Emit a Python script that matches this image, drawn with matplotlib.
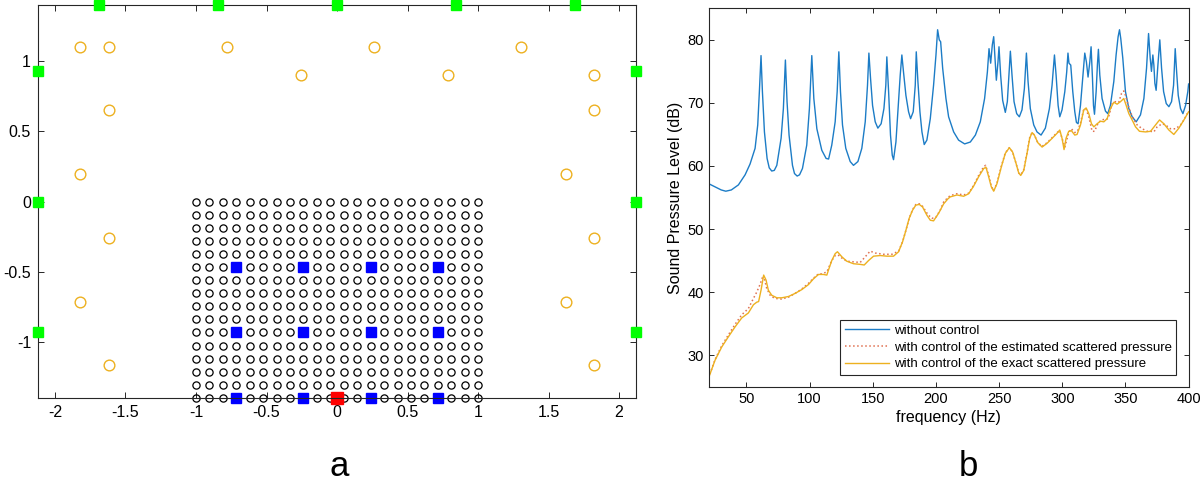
import matplotlib.pyplot as plt
import numpy as np

plt.rcParams['font.family'] = ['Liberation Sans', 'DejaVu Sans']
plt.rcParams['axes.unicode_minus'] = False

# ---- panel a: geometry ----
grid_x = [-1.000, -0.905, -0.810, -0.714, -0.619, -0.524, -0.429, -0.333, -0.238, -0.143, -0.048,
          0.048, 0.143, 0.238, 0.333, 0.429, 0.524, 0.619, 0.714, 0.810, 0.905, 1.000]
grid_y = [0.000, -0.093, -0.187, -0.280, -0.373, -0.467, -0.560, -0.653, -0.747, -0.840, -0.933,
          -1.027, -1.120, -1.213, -1.307, -1.400]

mic_x = [-1.82, -1.615, -0.777, 0.263, 1.305, -0.255, 0.784, 1.82, -1.615, 1.82,
         -1.82, 1.625, -1.615, 1.82, -1.82, 1.625, -1.615, 1.82]
mic_y = [1.10, 1.10, 1.10, 1.10, 1.10, 0.90, 0.90, 0.90, 0.65, 0.65,
         0.197, 0.197, -0.257, -0.257, -0.713, -0.713, -1.164, -1.164]

src_x = [-1.69, -0.845, 0.0, 0.845, 1.69, -2.12, -2.12, -2.12, 2.12, 2.12, 2.12]
src_y = [1.40, 1.40, 1.40, 1.40, 1.40, 0.933, 0.0, -0.933, 0.933, 0.0, -0.933]

sec_x = [-0.714, -0.238, 0.238, 0.714]
sec_y = [-0.467, -0.933, -1.400]

prim_x = [0.0]
prim_y = [-1.400]

# ---- panel b: spectra ----
f_nc = [20, 25, 30, 33.6, 38, 43.6, 48.9, 52.8, 56.8, 58.9, 60.2, 61.5, 62.6, 64.2, 66.3, 68, 70.0, 72,
        74.0, 77.4, 79.2, 80.8, 82.1, 83.7, 86.4, 88, 90.1, 92, 94.3, 97.7, 99.8, 101.7, 103.3, 105.7,
        109.6, 113, 115, 117.5, 120.2, 121.8, 123.1, 124.4, 126.0, 128.6, 132.1, 134.7, 138.2, 141.3,
        144.0, 145.8, 146.9, 148.2, 149.8, 151.9, 154.0, 156.6, 158.8, 160.3, 161.1, 162.5, 164.0,
        165.4, 166.4, 168.3, 170.4, 171.7, 173.0, 174.3, 176.2, 178.3, 179.9, 182.0, 183.6, 184.4,
        185.7, 187.3, 188.9, 190.7, 192.8, 195.5, 198.1, 200.0, 201.3, 202.6, 203.7, 205.3, 207.9,
        210, 214.0, 217.9, 222.7, 227.2, 231.2, 235.1, 238.5, 240.7, 242.0, 243.3, 244.6, 245.7,
        246.7, 247.8, 249.1, 249.9, 251.2, 252.8, 254.9, 256.5, 257.8, 258.9, 260.2, 261.8, 263.9,
        266.0, 268.1, 270.0, 271.0, 271.6, 272.9, 274.7, 277.4, 280.0, 283.2, 286.6, 289.8, 291.9,
        293.8, 295.1, 296.7, 298.0, 299.8, 302.0, 303.5, 304.5, 305.3, 306.7, 308.3, 309.9, 311.2,
        312.5, 314.4, 316.2, 317.8, 319.1, 320.4, 321.8, 322.8, 323.9, 324.7, 325.5, 326.8, 327.8,
        328.6, 329.7, 331.5, 334.2, 336.0, 338.1, 340.8, 342.6, 344.2, 345.3, 346.3, 347.9, 350.0,
        352.7, 355.3, 358.5, 361.9, 364.6, 366.7, 368.3, 369.6, 370.6, 371.7, 372.5, 373.3, 374.3,
        375.7, 377.2, 378.6, 380.2, 382.3, 384.4, 386.5, 388.1, 389.4, 390.5, 391.8, 393.6, 395.5,
        397.6, 399.4, 400]
spl_nc = [57.2, 56.7, 56.2, 56.0, 56.2, 57.0, 58.6, 60.3, 62.8, 66.5, 71.8, 77.5, 71.8, 65.4, 61.2, 59.7,
          59.2, 59.3, 60.1, 64.4, 69.1, 76.8, 70.2, 64.9, 60.1, 58.8, 58.4, 58.6, 59.6, 63.3, 69.1, 77.5,
          70.7, 65.9, 62.5, 61.2, 61.1, 63.3, 67.0, 71.8, 78.1, 71.8, 66.5, 62.8, 60.7, 60.1, 60.7, 62.8,
          67.0, 72.8, 77.9, 73.9, 69.6, 67.0, 66.0, 66.7, 69.1, 72.8, 77.3, 71.8, 64.9, 61.7, 61.0, 63.8,
          70.2, 74.4, 77.6, 74.9, 71.2, 68.6, 67.5, 68.6, 72.8, 78.1, 73.4, 68.6, 65.4, 63.4, 64.1, 67.5,
          72.8, 77.6, 81.6, 80.0, 79.7, 75.5, 70.7, 67.8, 65.4, 64.1, 63.5, 63.8, 64.9, 67.0, 70.7, 74.9,
          78.6, 76.3, 79.2, 80.5, 77.1, 73.6, 76.5, 78.9, 74.4, 70.4, 68.5, 70.2, 74.4, 78.2, 74.4, 70.2,
          68.3, 67.8, 68.9, 72.3, 76.0, 77.9, 73.4, 69.1, 66.5, 65.4, 64.9, 66.0, 69.1, 72.8, 77.6, 74.4,
          69.6, 67.8, 68.9, 71.8, 74.9, 77.9, 76.3, 76.0, 71.8, 68.6, 66.9, 66.7, 69.6, 73.9, 77.9, 76.5,
          74.1, 76.5, 78.9, 73.9, 69.6, 68.2, 71.8, 76.0, 78.5, 74.4, 70.7, 68.7, 68.3, 69.6, 73.4, 77.6,
          80.5, 81.6, 80.2, 77.1, 71.8, 69.1, 67.8, 67.0, 68.1, 70.7, 75.5, 81.0, 77.1, 75.0, 77.6, 76.0,
          73.1, 72.0, 76.0, 80.0, 75.5, 71.8, 69.9, 69.4, 70.2, 72.8, 78.6, 75.0, 71.2, 69.1, 68.3, 69.6,
          71.8, 73.0]

f_exact = [20, 25.1, 30.4, 35.6, 41.0, 46.2, 51.5, 55.5, 58.1, 59.6, 61.5, 63.6, 65.5, 67.3, 70.0, 74.0,
           77.9, 83.2, 88.5, 93.8, 99.1, 103.0, 107.0, 110.9, 113.6, 114.9, 117.5, 120.2, 122.0, 125.5,
           129.4, 134.7, 140.0, 143.2, 146.6, 150.6, 155.9, 161.1, 166.4, 170.4, 173.6, 176.2, 178.8,
           181.5, 184.1, 186.8, 189.4, 192.8, 195.5, 198.1, 202.1, 206.1, 209.5, 211.3, 216.6, 221.9,
           225.9, 229.8, 233.8, 237.8, 239.6, 241.7, 243.8, 245.7, 248.3, 251.8, 254.9, 258.1, 260.7,
           263.4, 265.5, 267.1, 269.5, 272.1, 274.2, 276.1, 277.9, 280.6, 284.0, 288.0, 292.0, 295.9,
           298.0, 299.8, 301.4, 303.0, 305.1, 307.2, 309.9, 311.7, 314.4, 317.0, 318.9, 321.0, 323.1,
           325.0, 327.6, 330.2, 332.9, 335.5, 338.1, 340.8, 343.4, 346.1, 348.7, 350.6, 352.7, 355.3,
           358.0, 361.1, 365.9, 369.9, 373.8, 377.0, 380.4, 384.4, 388.3, 392.3, 396.3, 400]
spl_exact = [26.4, 29.2, 31.3, 32.9, 34.5, 35.9, 36.7, 38.0, 38.4, 38.5, 40.3, 42.7, 41.9, 40.3, 39.5,
             39.1, 39.1, 39.3, 39.8, 40.4, 41.2, 42.1, 42.8, 42.8, 42.7, 43.5, 45.0, 46.1, 46.4, 45.6,
             44.9, 44.5, 44.4, 44.3, 45.0, 45.7, 45.8, 45.7, 45.7, 46.4, 48.0, 49.8, 51.7, 53.0, 53.8,
             53.9, 53.5, 52.2, 51.4, 51.3, 52.5, 54.0, 54.8, 55.1, 55.4, 55.2, 55.6, 56.8, 58.3, 59.6,
             59.8, 58.3, 56.7, 56.0, 57.2, 59.9, 62.0, 62.9, 62.2, 60.4, 58.9, 58.5, 59.3, 62.0, 64.4,
             65.3, 64.9, 63.7, 63.0, 63.6, 64.4, 65.2, 65.7, 64.4, 62.6, 64.4, 65.5, 65.6, 64.9, 65.0,
             66.5, 68.9, 69.2, 68.3, 66.7, 66.2, 66.7, 67.1, 67.0, 67.5, 69.1, 70.1, 69.8, 70.2, 70.7,
             69.6, 68.3, 67.3, 66.2, 65.5, 65.4, 65.5, 66.5, 67.3, 66.7, 65.7, 65.0, 66.0, 67.3, 68.6]

f_est = [20, 25.1, 30.4, 35.6, 41.0, 46.2, 51.5, 55.5, 58.1, 60.7, 62.6, 64.2, 66.0, 69.0, 72.6, 77.9,
         83.2, 88.5, 93.8, 99.1, 103.0, 107.0, 109.6, 113.6, 117.5, 120.2, 122.5, 125.5, 129.4, 134.7,
         140.0, 144.0, 147.9, 151.9, 158.5, 165.1, 170.4, 173.6, 176.2, 178.8, 181.5, 184.1, 186.8,
         189.4, 193.6, 196.8, 200.0, 203.4, 206.1, 209.5, 211.3, 216.6, 221.9, 225.9, 229.8, 233.8,
         237.8, 239.3, 241.7, 243.8, 245.7, 248.3, 251.8, 254.9, 258.1, 260.7, 263.4, 265.5, 267.1,
         269.5, 272.1, 274.2, 276.1, 277.9, 280.6, 284.0, 288.0, 292.0, 295.9, 298.0, 299.8, 302.0,
         305.1, 307.2, 309.9, 312.0, 314.4, 317.0, 318.9, 321.0, 323.6, 325.5, 328.4, 331.0, 333.6,
         336.3, 339.5, 342.0, 344.7, 346.9, 348.7, 350.0, 352.2, 354.0, 356.6, 359.3, 363.3, 367.2,
         369.9, 372.5, 375.1, 379.1, 381.7, 385.7, 389.7, 393.6, 396.3, 400]
spl_est = [26.4, 29.3, 31.5, 33.2, 34.9, 36.4, 37.4, 39.0, 40.0, 41.2, 42.3, 42.1, 40.6, 39.4, 39.0,
           38.9, 39.2, 39.8, 40.5, 41.4, 42.2, 42.9, 42.9, 43.2, 45.0, 45.8, 45.9, 45.4, 44.9, 44.8,
           44.7, 45.6, 46.5, 46.2, 46.0, 46.0, 46.5, 48.0, 49.8, 51.7, 53.1, 53.9, 54.0, 53.6, 52.3,
           51.7, 51.9, 53.0, 54.3, 55.0, 55.3, 55.6, 55.4, 55.7, 56.9, 58.5, 59.9, 60.1, 58.5, 56.8,
           56.1, 57.3, 60.0, 62.1, 62.9, 62.2, 60.4, 58.9, 58.6, 59.4, 62.1, 64.5, 65.3, 64.9, 63.7,
           63.1, 63.7, 64.5, 65.3, 65.6, 64.4, 63.0, 65.3, 65.9, 65.3, 65.5, 66.8, 69.0, 69.0, 67.8,
           65.5, 65.5, 66.8, 67.3, 67.4, 67.5, 69.9, 70.2, 70.1, 71.5, 71.9, 71.2, 69.6, 68.5, 67.4,
           66.5, 65.9, 65.5, 65.5, 65.4, 66.2, 66.7, 66.5, 65.9, 65.9, 66.5, 67.3, 68.7]

fig = plt.figure(figsize=(12, 4.86), dpi=100)

# ---------------- panel a ----------------
ax1 = fig.add_axes([0.0317, 0.181, 0.4983, 0.8086])
gx, gy = np.meshgrid(grid_x, grid_y)
ax1.plot(gx.ravel(), gy.ravel(), 'o', ms=5.2, mfc='none', mec='black', mew=0.9, clip_on=False)
ax1.plot(mic_x, mic_y, 'o', ms=7.7, mfc='none', mec='#EDB120', mew=1.0, clip_on=False)
sx, sy = np.meshgrid(sec_x, sec_y)
ax1.plot(sx.ravel(), sy.ravel(), 's', ms=7.6, mfc='#0000FF', mec='#0000FF', clip_on=False)
ax1.plot(prim_x, prim_y, 's', ms=9.3, mfc='#FF0000', mec='#FF0000', clip_on=False)
ax1.plot(src_x, src_y, 's', ms=7.6, mfc='#00FF00', mec='#00FF00', clip_on=False, zorder=5)
ax1.set_xlim(-2.12, 2.12)
ax1.set_ylim(-1.4, 1.4)
ax1.set_xticks([-2, -1.5, -1, -0.5, 0, 0.5, 1, 1.5, 2])
ax1.set_xticklabels(['-2', '-1.5', '-1', '-0.5', '0', '0.5', '1', '1.5', '2'])
ax1.set_yticks([-1, -0.5, 0, 0.5, 1])
ax1.set_yticklabels(['-1', '-0.5', '0', '0.5', '1'])
ax1.tick_params(direction='in', top=True, right=True, length=4.5, width=0.7,
                labelsize=11.5, colors='#262626', labelcolor='black', pad=5)
for s in ax1.spines.values():
    s.set_linewidth(0.8)
    s.set_color('#262626')

# ---------------- panel b ----------------
ax2 = fig.add_axes([0.5905, 0.2043, 0.4, 0.7786])
ax2.plot(f_nc, spl_nc, color='#1C7CC6', lw=1.0, label='without control')
ax2.plot(f_est, spl_est, ':', color='#E07050', lw=1.1, label='with control of the estimated scattered pressure')
ax2.plot(f_exact, spl_exact, color='#EDB120', lw=1.0, label='with control of the exact scattered pressure')
ax2.set_xlim(20, 400)
ax2.set_ylim(25, 85)
ax2.set_xticks([50, 100, 150, 200, 250, 300, 350, 400])
ax2.set_yticks([30, 40, 50, 60, 70, 80])
ax2.tick_params(direction='in', top=True, right=True, length=3.6, width=0.7,
                labelsize=10.5, colors='#262626', labelcolor='black')
for s in ax2.spines.values():
    s.set_linewidth(0.8)
    s.set_color('#262626')
ax2.set_xlabel('frequency (Hz)', fontsize=11.5, labelpad=3)
ax2.set_ylabel('Sound Pressure Level (dB)', fontsize=11.5, labelpad=3)
leg = ax2.legend(loc='lower right', bbox_to_anchor=(0.9746, 0.031), fontsize=9.5,
                 frameon=True, fancybox=False, edgecolor='#262626', framealpha=1,
                 handlelength=3.3, handletextpad=0.4, borderpad=0.35, labelspacing=0.35,
                 borderaxespad=0)
leg.get_frame().set_linewidth(0.8)

fig.text(338.7 / 1200, 1 - 475.5 / 486, 'a', fontsize=25, ha='center', va='baseline')
fig.text(968.6 / 1200, 1 - 475.5 / 486, 'b', fontsize=25, ha='center', va='baseline')

fig.savefig('out.png', dpi=100)
